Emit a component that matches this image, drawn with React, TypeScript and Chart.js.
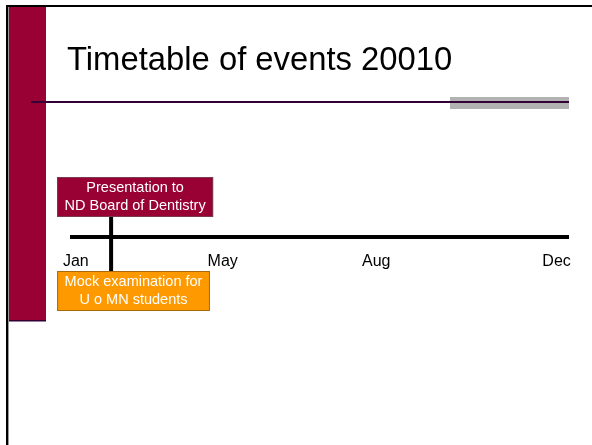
import React, { useEffect, useRef } from "react";
import { Chart, registerables } from "chart.js";

Chart.register(...registerables);

// Slide title
const titleText = "Timetable of events 20010";

// Timeline axis, in weeks of the year (0..52)
const tickLabels = ["Jan", "May", "Aug", "Dec"];
const tickWeeks = [0.4, 15.8, 31.9, 50.8];

// Events on the timeline
const eventWeeks = [4.1, 4.1];
const eventSides = [1, -1.22]; // above / below the axis
const eventLabels = [
  ["Presentation to", "ND Board of Dentistry"],
  ["Mock examination for", "U o MN students"],
];
const eventColors = ["#990033", "#ff9900"];
const eventBorders = ["#7a3a50", "#a86a10"];

const FONT = "'Liberation Sans', Arial, sans-serif";

const slidePlugin = {
  id: "slideDecor",
  beforeDraw(chart: any) {
    const { ctx, width, height } = chart;
    ctx.save();
    ctx.fillStyle = "#ffffff";
    ctx.fillRect(0, 0, width, height);
    // red side bar
    ctx.fillStyle = "#990033";
    ctx.fillRect(8, 7, 38, 313);
    ctx.fillStyle = "#330033";
    ctx.fillRect(8, 320, 38, 1.5);
    // frame
    ctx.fillStyle = "#000000";
    ctx.fillRect(6, 5, width - 6, 2);
    ctx.fillRect(6, 5, 2, height - 5);
    ctx.fillStyle = "#9a9a9a";
    ctx.fillRect(8, 7, 1, height - 7);
    // grey accent and title rule
    ctx.fillStyle = "#b2b2b2";
    ctx.fillRect(450, 97, 119, 12);
    ctx.fillStyle = "#330033";
    ctx.fillRect(31, 101, 538, 2);
    // title
    ctx.fillStyle = "#000000";
    ctx.font = `32.8px ${FONT}`;
    ctx.textBaseline = "alphabetic";
    ctx.textAlign = "left";
    ctx.fillText(titleText, 67, 70);
    ctx.restore();
  },
  afterDatasetsDraw(chart: any) {
    const { ctx } = chart;
    const xs = chart.scales.x;
    const ys = chart.scales.y;
    ctx.save();
    ctx.font = `14.5px ${FONT}`;
    const lineH = 17.5;
    const padX = 7.5;
    const boxH = 40;
    eventLabels.forEach((lines, i) => {
      const px = xs.getPixelForValue(eventWeeks[i]);
      const py = ys.getPixelForValue(eventSides[i]);
      const w = Math.max(...lines.map((l) => ctx.measureText(l).width)) + padX * 2;
      const left = px - 54;
      const top = eventSides[i] > 0 ? py : py - boxH;
      ctx.fillStyle = eventColors[i];
      ctx.fillRect(left, top, w, boxH);
      ctx.strokeStyle = eventBorders[i];
      ctx.lineWidth = 1;
      ctx.strokeRect(left + 0.5, top + 0.5, w - 1, boxH - 1);
      ctx.fillStyle = "#ffffff";
      ctx.textAlign = "center";
      ctx.textBaseline = "middle";
      const cy = top + boxH / 2;
      lines.forEach((l, j) => {
        ctx.fillText(l, left + w / 2, cy + (j - (lines.length - 1) / 2) * lineH);
      });
    });
    ctx.restore();
  },
};

export default function App() {
  const ref = useRef<HTMLCanvasElement>(null);
  useEffect(() => {
    if (!ref.current) return;
    const chart = new Chart(ref.current, {
      type: "scatter",
      data: {
        datasets: [
          {
            label: "connector",
            data: eventWeeks.map((w, i) => ({ x: w, y: eventSides[i] })),
            showLine: true,
            borderColor: "#000000",
            borderWidth: 4,
            pointRadius: 0,
            clip: false as any,
          },
        ],
      },
      options: {
        animation: false,
        responsive: false,
        events: [],
        layout: { padding: { left: 72, right: 24, top: 177, bottom: 134 } },
        plugins: {
          legend: { display: false },
          tooltip: { enabled: false },
          title: { display: false },
        },
        scales: {
          x: {
            type: "linear",
            min: 0,
            max: 52,
            position: { y: 0 } as any,
            afterBuildTicks: (axis: any) => {
              axis.ticks = tickWeeks.map((v) => ({ value: v }));
            },
            ticks: {
              autoSkip: false,
              maxRotation: 0,
              padding: 7,
              color: "#000000",
              font: { family: FONT, size: 16 },
              callback: (_v: any, idx: number) => tickLabels[idx],
            },
            grid: { display: false },
            border: { display: true, color: "#000000", width: 4 },
          },
          y: {
            type: "linear",
            min: -1.22,
            max: 1,
            display: false,
          },
        },
      },
      plugins: [slidePlugin],
    });
    return () => chart.destroy();
  }, []);
  return (
    <div style={{ position: "absolute", left: 0, top: 0, width: 592, height: 445 }}>
      <canvas ref={ref} width={592} height={445} style={{ width: 592, height: 445, display: "block" }} />
    </div>
  );
}
